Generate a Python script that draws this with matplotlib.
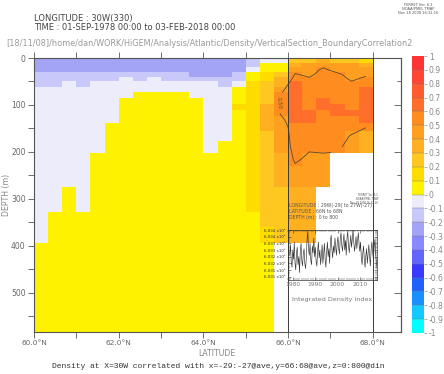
import numpy as np
import matplotlib
matplotlib.use('Agg')
import matplotlib.pyplot as plt
from matplotlib.colors import ListedColormap, BoundaryNorm
from matplotlib.cm import ScalarMappable

nan = np.nan

# ---------------- data ----------------
lat_edges = np.linspace(60.0, 68.0 + 2.0 / 3.0, 27)          # 1/3 degree cells
depth_edges = [0, 10, 20, 30, 40, 50, 62, 72, 85, 97, 110, 124, 138, 156, 176,
               202, 230, 260, 275, 300, 328, 360, 394, 440, 500, 583]

corr = [
    [-.25,-.25,-.25,-.25,-.25,-.25,-.25,-.25,-.25,-.25,-.25,-.25,-.25,-.25,-.25,-.15,-.05,-.05,.25,.28,.30,.26,.22,.17,nan,nan],
    [-.25,-.25,-.25,-.25,-.25,-.25,-.25,-.25,-.25,-.25,-.25,-.25,-.25,-.25,-.25,-.15,.05,.05,.36,.42,.47,.42,.40,.38,nan,nan],
    [-.25,-.25,-.25,-.25,-.25,-.25,-.25,-.25,-.25,-.25,-.25,-.25,-.25,-.25,-.25,-.05,.05,.08,.46,.45,.52,.46,.44,.44,nan,nan],
    [-.15,-.15,-.15,-.15,-.15,-.15,-.15,-.15,-.15,-.15,-.15,-.25,-.25,-.25,-.15,.05,.12,.25,.51,.47,.55,.52,.46,.48,nan,nan],
    [-.15,-.15,-.15,-.15,-.15,-.15,-.05,-.15,-.05,-.15,-.15,-.15,-.15,-.15,-.15,.05,.15,.30,.56,.52,.56,.56,.48,.53,nan,nan],
    [-.15,-.15,-.05,-.15,-.05,-.05,-.05,-.05,-.05,-.05,-.05,-.05,-.05,-.15,-.05,.12,.20,.38,.62,.57,.57,.58,.53,.56,nan,nan],
    [-.05,-.05,-.05,-.05,-.05,-.05,-.05,-.05,-.05,-.05,-.05,-.05,-.05,-.05,.05,.15,.25,.45,.65,.58,.56,.56,.55,.60,nan,nan],
    [-.05,-.05,-.05,-.05,-.05,-.05,-.05,.05,.05,.05,.05,-.05,-.05,-.05,.05,.15,.25,.51,.66,.57,.58,.55,.56,.63,nan,nan],
    [-.05,-.05,-.05,-.05,-.05,-.05,.05,.05,.05,.05,.05,.05,-.05,-.05,.05,.15,.25,.55,.66,.56,.60,.57,.57,.64,nan,nan],
    [-.05,-.05,-.05,-.05,-.05,-.05,.05,.05,.05,.05,.05,.05,-.05,-.05,.15,.15,.30,.55,.65,.58,.61,.60,.58,.66,nan,nan],
    [-.05,-.05,-.05,-.05,-.05,-.05,.05,.05,.05,.05,.05,.05,-.05,-.05,.05,.15,.30,.52,.64,.63,.57,.62,.60,.65,nan,nan],
    [-.05,-.05,-.05,-.05,-.05,-.05,.05,.05,.05,.05,.05,.05,-.05,-.05,.05,.15,.30,.46,.62,.64,.55,.58,.58,.62,nan,nan],
    [-.05,-.05,-.05,-.05,-.05,.05,.05,.05,.05,.05,.05,.05,-.05,-.05,.05,.15,.30,.42,.58,.58,.53,.56,.55,.51,nan,nan],
    [-.05,-.05,-.05,-.05,-.05,.05,.05,.05,.05,.05,.05,.05,-.05,-.05,.05,.15,.28,.40,.57,.56,.54,.55,.49,.38,nan,nan],
    [-.05,-.05,-.05,-.05,-.05,.05,.05,.05,.05,.05,.05,.05,-.05,.05,.05,.12,.28,.40,.55,.52,.55,.54,.42,.30,nan,nan],
    [-.05,-.05,-.05,-.05,.05,.05,.05,.05,.05,.05,.05,.05,.05,.05,.05,.12,.25,.37,.52,.47,.45,nan,nan,nan,nan,nan],
    [-.05,-.05,-.05,-.05,.05,.05,.05,.05,.05,.05,.05,.05,.05,.05,.05,.12,.25,.33,.45,.45,.44,nan,nan,nan,nan,nan],
    [-.05,-.05,-.05,-.05,.05,.05,.05,.05,.05,.05,.05,.05,.05,.05,.05,.12,.25,.30,.42,.42,.44,nan,nan,nan,nan,nan],
    [-.05,-.05,.05,-.05,.05,.05,.05,.05,.05,.05,.05,.05,.05,.05,.05,.12,.20,.28,.38,.38,nan,nan,nan,nan,nan,nan],
    [-.05,-.05,.05,-.05,.05,.05,.05,.05,.05,.05,.05,.05,.05,.05,.05,.12,.20,.25,.36,.35,nan,nan,nan,nan,nan,nan],
    [-.05,.05,.05,.05,.05,.05,.05,.05,.05,.05,.05,.05,.05,.05,.05,.05,.20,.22,.34,.33,nan,nan,nan,nan,nan,nan],
    [-.05,.05,.05,.05,.05,.05,.05,.05,.05,.05,.05,.05,.05,.05,.05,.05,.12,.20,.33,.32,nan,nan,nan,nan,nan,nan],
    [.05,.05,.05,.05,.05,.05,.05,.05,.05,.05,.05,.05,.05,.05,.05,.05,.05,nan,nan,nan,nan,nan,nan,nan,nan,nan],
    [.05,.05,.05,.05,.05,.05,.05,.05,.05,.05,.05,.05,.05,.05,.05,.05,.05,nan,nan,nan,nan,nan,nan,nan,nan,nan],
    [.05,.05,.05,.05,.05,.05,.05,.05,.05,.05,.05,.05,.05,.05,.05,.05,.05,nan,nan,nan,nan,nan,nan,nan,nan,nan],
]

levels = [-1.0, -0.9, -0.8, -0.7, -0.6, -0.5, -0.4, -0.3, -0.2, -0.1, 0.0,
          0.1, 0.2, 0.3, 0.4, 0.5, 0.6, 0.7, 0.8, 0.9, 1.0]
level_labels = ['-1', '-0.9', '-0.8', '-0.7', '-0.6', '-0.5', '-0.4', '-0.3', '-0.2', '-0.1', '0',
                '0.1', '0.2', '0.3', '0.4', '0.5', '0.6', '0.7', '0.8', '0.9', '1']
level_colors = ['#00ffff', '#12c8ff', '#1a90ff', '#2060ff', '#3a3aff', '#6464ff', '#8888ff',
                '#a4a4f6', '#c8c8fa', '#ececfa', '#fff200', '#ffdc00', '#ffc820', '#ffb020',
                '#ff9f20', '#ff8c1e', '#ff6e2a', '#ff5a30', '#ff4632', '#ff3434']

lat_ticks = [60, 62, 64, 66, 68]
lat_tick_labels = ['60.0°N', '62.0°N', '64.0°N', '66.0°N', '68.0°N']
depth_ticks = [0, 100, 200, 300, 400, 500]

# inset time series (integrated density index, kg/m3), 1978-2018
index_years = (1978.67, 2018.0)
density_index = [
    6032.6, 6033.4, 6032.1, 6031.7, 6033.0, 6032.3, 6033.6, 6032.0, 6031.5, 6032.8,
    6033.2, 6031.9, 6032.5, 6031.3, 6032.9, 6033.5, 6032.2, 6031.8, 6032.7,
    6033.1, 6032.0, 6031.6, 6032.4, 6033.8, 6034.4, 6033.0, 6032.6, 6033.5, 6032.2,
    6031.9, 6033.3, 6032.8, 6033.9, 6032.5,
    6033.2, 6032.1, 6031.8, 6032.9, 6033.6, 6032.4, 6033.0, 6031.9, 6032.6, 6033.4,
    6032.0, 6032.7, 6033.5, 6032.3, 6031.7,
    6032.9, 6033.6, 6032.5, 6033.1, 6032.0, 6033.7, 6034.1, 6033.0, 6032.4, 6033.3,
    6032.8, 6033.9, 6033.2, 6032.6, 6033.5,
    6034.0, 6033.1, 6032.7, 6033.8, 6034.3, 6033.4, 6032.9, 6033.6, 6034.2, 6033.0,
    6033.7, 6032.6, 6033.9, 6034.4, 6033.3,
    6032.8, 6033.5, 6034.1, 6033.2, 6033.8, 6034.5, 6033.6, 6032.9, 6033.4, 6034.0,
    6033.1, 6033.7, 6034.3, 6033.5, 6032.9,
    6033.6, 6032.4, 6031.9, 6032.8, 6033.3, 6032.2, 6031.7, 6032.6, 6033.1, 6032.0,
    6032.7, 6033.4, 6032.5, 6031.8, 6033.0,
    6033.6, 6032.9, 6032.3, 6033.2, 6033.8, 6032.7, 6032.1, 6031.6, 6031.1,
]
index_yticks = [6031.0, 6031.5, 6032.0, 6032.5, 6033.0, 6033.5, 6034.0, 6034.5]
index_ytick_labels = ['6.031', '6.031', '6.032', '6.032', '6.033', '6.033', '6.034', '6.034']
index_xticks = [1980, 1990, 2000, 2010]

# ---------------- figure ----------------
W, H = 444, 374
fig = plt.figure(figsize=(W / 100, H / 100), dpi=100)
fig.patch.set_facecolor('white')

def fx(px):
    return px / W

def fy(py):
    return 1 - py / H

ax = fig.add_axes([fx(34), fy(332), fx(401 - 34), (332 - 58) / H])
cmap = ListedColormap(level_colors)
norm = BoundaryNorm(levels, cmap.N)
Z = np.ma.masked_invalid(np.array(corr, dtype=float))
ax.pcolormesh(lat_edges, depth_edges, Z, cmap=cmap, norm=norm, shading='flat')

lat_c = 0.5 * (lat_edges[:-1] + lat_edges[1:])
dep = np.array(depth_edges, dtype=float)
dep_c = 0.5 * (dep[:-1] + dep[1:])
cs = ax.contour(lat_c, dep_c, Z, levels=[0.5], colors='#5b4a2e', linewidths=0.6)
ax.clabel(cs, fmt='%.2f', fontsize=4, inline=True, manual=[(65.8, 95)])

for lat in (66, 68):
    ax.axvline(lat, color='#3a3a3a', lw=0.7, zorder=3)

ax.set_xlim(lat_edges[0], lat_edges[-1])
ax.set_ylim(583, 0)
ax.set_xticks(lat_ticks)
ax.set_xticklabels(lat_tick_labels)
ax.set_xticks([61, 63, 65, 67], minor=True)
ax.set_yticks(depth_ticks)
ax.set_yticks([50, 150, 250, 350, 450, 550], minor=True)
ax.tick_params(axis='x', which='both', direction='out', top=True, length=4, width=0.6,
               color='#555555', labelsize=5.3, labelcolor='#666666', pad=2)
ax.tick_params(axis='y', which='both', direction='out', right=False, length=4, width=0.6,
               color='#555555', labelsize=5.5, labelcolor='#666666', pad=2)
for s in ax.spines.values():
    s.set_color('#555555')
    s.set_linewidth(0.8)

sec = ax.secondary_yaxis('right')
sec.set_yticks(depth_ticks)
sec.set_yticks([50, 150, 250, 350, 450, 550], minor=True)
sec.tick_params(axis='y', which='major', direction='in', length=5, width=0.6, color='#555555',
                labelright=False)
sec.tick_params(axis='y', which='minor', direction='in', length=3, width=0.6, color='#555555')
sec.spines['right'].set_color('#555555')
sec.spines['right'].set_linewidth(0.8)

# ---------------- colorbar ----------------
cax = fig.add_axes([fx(412), fy(333), fx(12), 277 / H])
cb = fig.colorbar(ScalarMappable(norm=norm, cmap=cmap), cax=cax, ticks=levels, drawedges=True)
cb.outline.set_linewidth(0.0)
cb.dividers.set_color('#777777')
cb.dividers.set_linewidth(0.3)
cax.set_yticklabels(level_labels)
cax.tick_params(length=2, width=0.4, color='#777777', labelsize=5.5, labelcolor='#888888', pad=1.5)

# ---------------- inset ----------------
iax = fig.add_axes([fx(288), fy(280), fx(89), 50 / H])
iax.patch.set_alpha(0)
t = np.linspace(index_years[0], index_years[1], len(density_index))
iax.plot(t, density_index, color='#333333', lw=0.45)
iax.set_xlim(1977.9, 2017.6)
iax.set_ylim(6030.78, 6034.5)
iax.set_xticks(index_xticks)
iax.set_xticks(list(range(1978, 2018)), minor=True)
iax.set_yticks(index_yticks)
iax.set_yticklabels([l + ' x10³' for l in index_ytick_labels])
iax.set_yticks([6030.75 + 0.125 * k for k in range(30)], minor=True)
iax.tick_params(which='major', direction='in', top=True, right=True, length=2.2, width=0.4,
                color='#333333', pad=1.5)
iax.tick_params(which='minor', direction='in', top=True, right=True, length=1.1, width=0.3,
                color='#333333')
iax.tick_params(axis='x', labelsize=4.3, labelcolor='#777777')
iax.tick_params(axis='y', labelsize=2.9, labelcolor='#333333')
for s in iax.spines.values():
    s.set_color('#333333')
    s.set_linewidth(0.5)

fig.text(fx(332), fy(299), 'Integrated Density index', ha='center', va='center',
         fontsize=4.6, color='#777777')
fig.text(fx(289), fy(206), 'LONGITUDE : 29W(-29) to 27W(-27)', ha='left', va='center',
         fontsize=3.3, color='#555555')
fig.text(fx(289), fy(211.5), 'LATITUDE : 66N to 68N', ha='left', va='center',
         fontsize=3.3, color='#555555')
fig.text(fx(289), fy(217), 'DEPTH (m) : 0 to 800', ha='left', va='center',
         fontsize=3.3, color='#555555')
fig.text(fx(378), fy(199), 'FERRET Ver. 6.1\nNOAA/PMEL TMAP\nNov 18 2008 16:32:16',
         ha='right', va='center', fontsize=1.8, color='#555555', linespacing=1.0)

# ---------------- titles / labels ----------------
fig.text(fx(34), fy(18), 'LONGITUDE : 30W(330)', ha='left', va='center',
         fontsize=6.0, color='#444444')
fig.text(fx(34), fy(28), 'TIME : 01-SEP-1978 00:00 to 03-FEB-2018 00:00', ha='left',
         va='center', fontsize=6.0, color='#444444')
fig.text(fx(6), fy(43),
         '[18/11/08]/home/dan/WORK/HiGEM/Analysis/Atlantic/Density/VerticalSection_BoundaryCorrelation2',
         ha='left', va='center', fontsize=5.9, color='#999999')
fig.text(fx(418), fy(9), 'FERRET Ver. 6.1\nNOAA/PMEL TMAP\nNov 18 2008 16:32:16',
         ha='center', va='center', fontsize=2.6, color='#555555', linespacing=1.1)
fig.text(fx(217), fy(353), 'LATITUDE', ha='center', va='center', fontsize=5.6, color='#888888')
fig.text(fx(7), fy(195), 'DEPTH (m)', ha='center', va='center', rotation=90,
         fontsize=5.6, color='#888888')
fig.text(fx(218), fy(366),
         'Density at X=30W correlated with x=-29:-27@ave,y=66:68@ave,z=0:800@din',
         ha='center', va='center', fontsize=5.8, family='Liberation Mono', color='#333333')

fig.savefig('out.png', dpi=100)
